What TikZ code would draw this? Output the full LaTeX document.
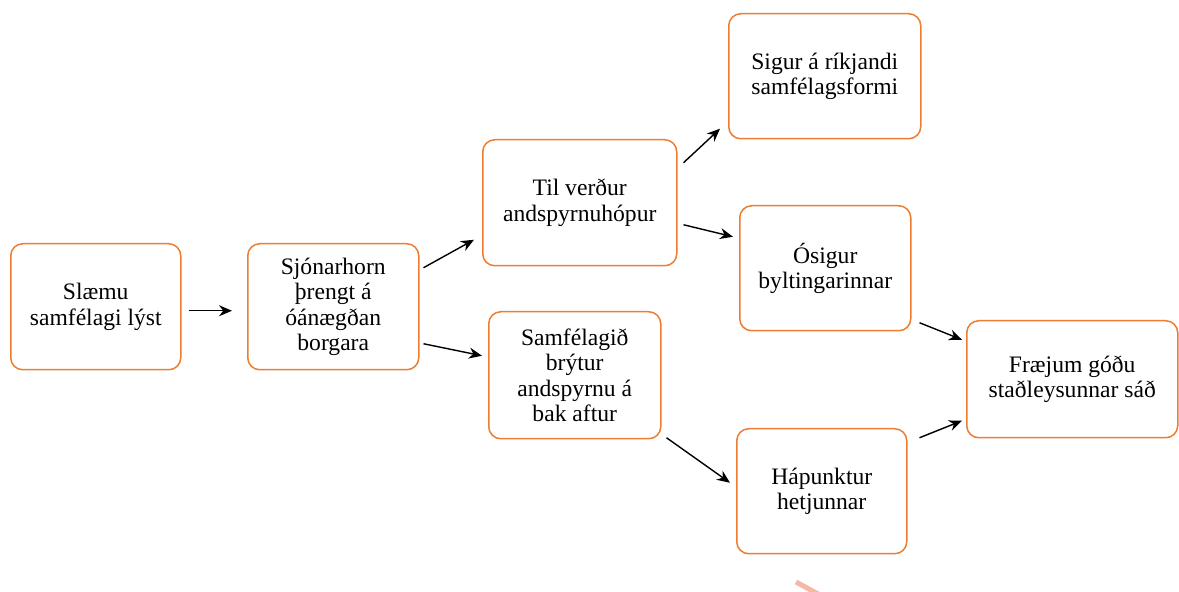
\documentclass[tikz,border=0pt]{standalone}
\usepackage{fontspec}
\setmainfont{Liberation Serif}
\usetikzlibrary{calc,arrows.meta}
\definecolor{boxorange}{HTML}{ED7D31}
\definecolor{stray}{HTML}{F6B8A4}
\tikzset{
  box/.style={draw=boxorange, line width=0.75pt, rounded corners=6pt, fill=white,
    anchor=north west, align=center, inner sep=0pt,
    font=\fontsize{11.8}{12.7}\selectfont},
  arr/.style={line width=0.7pt, -{Stealth[length=6.5pt,width=5.5pt]}}
}
\begin{document}
\begin{tikzpicture}[x=0.5pt,y=-0.5pt]
\useasboundingbox (0,0) rectangle (1179,592);
\fill[white] (0,0) rectangle (1179,592);
\node[box, minimum width=85pt, minimum height=63pt] (n1) at (10,243) {Slæmu\\samfélagi lýst};
\node[box, minimum width=85.5pt, minimum height=63pt] (n2) at (247,243) {Sjónarhorn\\þrengt á\\óánægðan\\borgara};
\node[box, minimum width=97pt, minimum height=63pt] (n3) at (482,139) {Til verður\\andspyrnuhópur};
\node[box, minimum width=86pt, minimum height=63.5pt] (n4) at (488,311) {Samfélagið\\brýtur\\andspyrnu á\\bak aftur};
\node[box, minimum width=96pt, minimum height=62.5pt] (n5) at (728,13) {Sigur á ríkjandi\\samfélagsformi};
\node[box, minimum width=85.5pt, minimum height=62.5pt] (n6) at (739,205) {Ósigur\\byltingarinnar};
\node[box, minimum width=85pt, minimum height=62.5pt] (n7) at (736,428) {Hápunktur\\hetjunnar};
\node[box, minimum width=105.5pt, minimum height=58.5pt] (n8) at (966,320) {Fræjum góðu\\staðleysunnar sáð};
\draw[arr] ($(n1.east)+(7,4)$) -- ($(n2.west)+(-15,4)$);
\draw[arr] ($(n2.east)+(4,-39)$) -- ($(n3.west)+(-8,37)$);
\draw[arr] ($(n2.east)+(4,37)$) -- ($(n4.west)+(-6,-19.5)$);
\draw[arr] ($(n3.east)+(6,-40)$) -- ($(n5.west)+(-8,52.5)$);
\draw[arr] ($(n3.east)+(6,22)$) -- ($(n6.west)+(-6,-31.5)$);
\draw[arr] ($(n4.east)+(5,62.5)$) -- ($(n7.west)+(-6,-8.5)$);
\draw[arr] ($(n6.east)+(8,54.5)$) -- ($(n8.west)+(-4,-39.5)$);
\draw[arr] ($(n7.east)+(12,-53.5)$) -- ($(n8.west)+(-4,41.5)$);
\begin{scope}
\clip (0,0) rectangle (1179,592);
\draw[stray, line width=2.5pt] (796,582) -- (820,595);
\end{scope}
\end{tikzpicture}
\end{document}
